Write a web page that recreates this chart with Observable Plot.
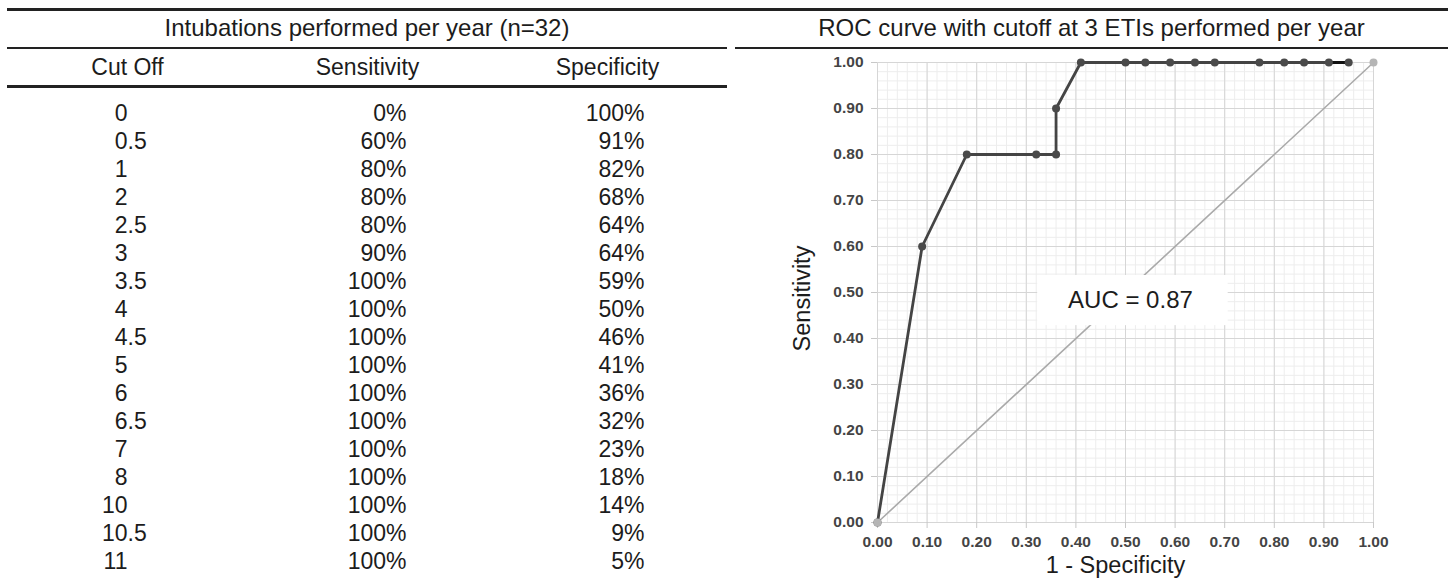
<!DOCTYPE html>
<html>
<head>
<meta charset="utf-8">
<script src="https://cdn.jsdelivr.net/npm/d3@7"></script>
<script src="https://cdn.jsdelivr.net/npm/@observablehq/plot@0.6"></script>
<style>
  body { margin: 0; background: #fff; }
  #wrap { position: relative; width: 1448px; height: 580px; overflow: hidden;
          font-family: Arial, "Liberation Sans", sans-serif; color: #1c1c1c; background: #fff; }
  .rule { position: absolute; background: #222; }
  .title { position: absolute; top: 14px; height: 28px; line-height: 28px; font-size: 24px;
           text-align: center; white-space: nowrap; }
  #table, #roc { position: absolute; top: 50px; }
  #table { left: 0; }
  #roc { left: 735px; }
</style>
</head>
<body>
<div id="wrap">
  <div class="rule" style="left:7px;top:7.5px;width:1441px;height:3px"></div>
  <div class="title" id="t1" style="left:7px;width:720px"></div>
  <div class="title" id="t2" style="left:735px;width:713px"></div>
  <div class="rule" style="left:7px;top:46.5px;width:720px;height:2.5px"></div>
  <div class="rule" style="left:735px;top:46.5px;width:713px;height:2.5px"></div>
  <div class="rule" style="left:7px;top:85px;width:720px;height:2.5px"></div>
  <div id="table"></div>
  <div id="roc"></div>
</div>
<script>
// ---- data ----
const tableTitle = "Intubations performed per year (n=32)";
const chartTitle = "ROC curve with cutoff at 3 ETIs performed per year";
const columns = ["Cut Off", "Sensitivity", "Specificity"];
const cutoffs = ["0", "0.5", "1", "2", "2.5", "3", "3.5", "4", "4.5", "5", "6", "6.5", "7", "8", "10", "10.5", "11"];
const sensitivity = [0, 60, 80, 80, 80, 90, 100, 100, 100, 100, 100, 100, 100, 100, 100, 100, 100];
const specificity = [100, 91, 82, 68, 64, 64, 59, 50, 46, 41, 36, 32, 23, 18, 14, 9, 5];
const xLabel = "1 - Specificity";
const yLabel = "Sensitivity";
const aucLabel = "AUC = 0.87";
const aucPos = {x: 0.51, y: 0.483};
const aucBox = {x1: 0.323, x2: 0.707, y1: 0.428, y2: 0.537};
const chanceLine = [0, 1];

document.getElementById("t1").textContent = tableTitle;
document.getElementById("t2").textContent = chartTitle;

const font = "Arial, 'Liberation Sans', sans-serif";

const rows = cutoffs.map((c, i) => {
  const [ip, fp] = c.split(".");
  return {cutoff: c, intPart: ip, frac: fp ? "." + fp : "", sens: sensitivity[i], spec: specificity[i]};
});

// ---- table ----
const table = Plot.plot({
  width: 735, height: 530,
  marginLeft: 7, marginRight: 8, marginTop: 36, marginBottom: 0,
  style: {fontFamily: font, fontSize: "23px", color: "#1c1c1c", background: "transparent", overflow: "visible"},
  x: {type: "band", domain: columns, padding: 0},
  y: {type: "point", domain: cutoffs, range: [57, 517], padding: 0, axis: null},
  marks: [
    Plot.axisX({anchor: "top", tickSize: 0, tickPadding: 12, label: null, fill: "#1c1c1c"}),
    Plot.text(rows, {x: () => columns[0], y: "cutoff", text: "intPart", textAnchor: "end", fill: "#1c1c1c"}),
    Plot.text(rows, {x: () => columns[0], y: "cutoff", text: "frac", textAnchor: "start", fill: "#1c1c1c"}),
    Plot.text(rows, {x: () => columns[1], y: "cutoff", text: d => d.sens + "%", textAnchor: "end", dx: 39, fill: "#1c1c1c"}),
    Plot.text(rows, {x: () => columns[2], y: "cutoff", text: d => d.spec + "%", textAnchor: "end", dx: 37, fill: "#1c1c1c"})
  ]
});
document.getElementById("table").appendChild(table);

// ---- ROC chart ----
const roc = rows.map(d => ({fpr: (100 - d.spec) / 100, tpr: d.sens / 100}));
const diag = chanceLine.map(v => ({fpr: v, tpr: v}));
const fmt = d3.format(".2f");

const chart = Plot.plot({
  width: 713, height: 530,
  marginLeft: 142, marginRight: 75, marginTop: 12, marginBottom: 58,
  style: {fontFamily: font, fontSize: "15.5px", color: "#222", background: "transparent", overflow: "visible"},
  x: {domain: [0, 1]},
  y: {domain: [0, 1]},
  marks: [
    Plot.gridX({ticks: 50, stroke: "#ededed", strokeOpacity: 1}),
    Plot.gridY({ticks: 50, stroke: "#ededed", strokeOpacity: 1}),
    Plot.gridX({ticks: 10, stroke: "#d6d6d6", strokeOpacity: 1}),
    Plot.gridY({ticks: 10, stroke: "#d6d6d6", strokeOpacity: 1}),
    Plot.axisX({ticks: 10, tickFormat: fmt, tickSize: 6, tickPadding: 7, stroke: "#c8c8c8", fill: "#444",
                fontWeight: "bold", fontSize: 15.5, label: null}),
    Plot.axisY({ticks: 10, tickFormat: fmt, tickSize: 6, tickPadding: 8, stroke: "#c8c8c8", fill: "#444",
                fontWeight: "bold", fontSize: 15.5, label: null}),
    Plot.text([xLabel], {frameAnchor: "bottom", dy: 43, dx: -10, fontSize: 23.5, fill: "#1c1c1c", lineAnchor: "middle"}),
    Plot.text([yLabel], {frameAnchor: "left", rotate: -90, dx: -75, dy: 6, fontSize: 23.5, fill: "#1c1c1c",
                         textAnchor: "middle", lineAnchor: "middle"}),
    Plot.line(diag, {x: "fpr", y: "tpr", stroke: "#aaa", strokeWidth: 1.6}),
    Plot.rect([aucBox], {x1: "x1", x2: "x2", y1: "y1", y2: "y2", fill: "white"}),
    Plot.text([aucPos], {x: "x", y: "y", text: () => aucLabel, fontSize: 24, fill: "#1c1c1c"}),
    Plot.line(roc, {x: "fpr", y: "tpr", stroke: "#444", strokeWidth: 2.8}),
    Plot.line(roc.slice(-2), {x: "fpr", y: "tpr", stroke: "#111", strokeWidth: 3}),
    Plot.dot(roc, {x: "fpr", y: "tpr", r: 4, fill: "#4a4a4a"}),
    Plot.dot(diag, {x: "fpr", y: "tpr", r: 4, fill: "#b5b5b5"})
  ]
});
document.getElementById("roc").appendChild(chart);
</script>
</body>
</html>
